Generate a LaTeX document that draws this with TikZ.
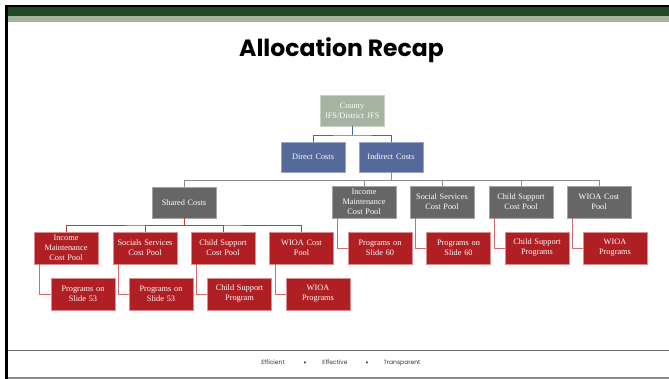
\documentclass[tikz,border=0pt]{standalone}
\usepackage{fontspec}
\setmainfont{Liberation Serif}
\newfontfamily\titlefont{Poppins}
\definecolor{dkgreen}{HTML}{1F4824}
\definecolor{ltgreen}{HTML}{A3B3A0}
\definecolor{countyc}{HTML}{A4B4A1}
\definecolor{bluec}{HTML}{55699A}
\definecolor{grayc}{HTML}{666666}
\definecolor{redc}{HTML}{B01F24}
\definecolor{redline}{HTML}{C0393D}
\definecolor{pinkline}{HTML}{D06A6D}
\definecolor{blueline}{HTML}{4F6699}
\definecolor{grayline}{HTML}{8C8C8C}
\tikzset{
  box/.style={rectangle, minimum width=64pt, minimum height=32pt, inner sep=1pt,
    text width=62pt, align=center, text=white, line width=0.6pt,
    font=\fontsize{8.3}{10}\selectfont},
  cbox/.style={box, fill=countyc, draw=countyc!60!white, minimum height=31pt},
  bbox/.style={box, fill=bluec, draw=bluec!60!white, minimum height=30pt},
  gbox/.style={box, fill=grayc, draw=grayc!60!white},
  rbox/.style={box, fill=redc, draw=redc!50!white},
  bconn/.style={draw=blueline, line width=0.9pt},
  gconn/.style={draw=grayline, line width=0.9pt},
  rconn/.style={draw=redline, line width=0.9pt},
  pconn/.style={draw=pinkline, line width=0.9pt},
  foot/.style={font=\titlefont\fontsize{6}{7}\selectfont, text=black!80, inner sep=0pt, anchor=base},
  bul/.style={font=\titlefont\fontsize{8}{8}\selectfont, text=black!80, inner sep=0pt, anchor=base},
}
\begin{document}
\begin{tikzpicture}[x=1pt,y=-1pt]
\useasboundingbox (0,0) rectangle (669,379);
\fill[white] (0,0) rectangle (669,379);
% frame
\fill[black] (5,5) rectangle (669,7.5);
\fill[black] (5,5) rectangle (8,379);
\fill[dkgreen] (8,7.5) rectangle (669,16);
\fill[ltgreen] (8,16) rectangle (669,22);
\draw[color=black!58, line width=1.5pt] (8,350.5) -- (669,350.5);
\draw[color=black!45, line width=1.5pt] (8,378) -- (669,378);
% title
\node[font=\titlefont\bfseries\fontsize{23.5}{26}\selectfont, text=black] (title) at (341.5,50) {Allocation Recap};
% footer
\node[foot] (f1) at (273,364.5) {Efficient};
\node[bul] (b1) at (305,365.5) {•};
\node[foot] (f2) at (335,364.5) {Effective};
\node[bul] (b2) at (367,365.5) {•};
\node[foot] (f3) at (402,364.5) {Transparent};
% nodes
\node[cbox] (county) at (352,110.5) {County\\JFS/District JFS};
\node[bbox] (direct) at (313,157) {Direct Costs};
\node[bbox] (indirect) at (391,157) {Indirect Costs};
\node[gbox, minimum height=31pt] (shared) at (184,202.5) {Shared Costs};
\node[gbox] (ipR) at (364,202) {Income\\Maintenance\\Cost Pool};
\node[gbox] (spR) at (442,202) {Social Services\\Cost Pool};
\node[gbox] (cpR) at (521,202) {Child Support\\Cost Pool};
\node[gbox] (wpR) at (599,202) {WIOA Cost\\Pool};
\node[rbox] (prR1) at (380,248) {Programs on\\Slide 60};
\node[rbox] (prR2) at (458.5,248) {Programs on\\Slide 60};
\node[rbox] (prR3) at (537,248) {Child Support\\Programs};
\node[rbox] (prR4) at (615,248) {WIOA\\Programs};
\node[rbox] (ipL) at (66,248) {Income\\Maintenance\\Cost Pool};
\node[rbox] (spL) at (145,248) {Socials Services\\Cost Pool};
\node[rbox] (cpL) at (223,248) {Child Support\\Cost Pool};
\node[rbox] (wpL) at (301.5,248) {WIOA Cost\\Pool};
\node[rbox] (prL1) at (83,294) {Programs on\\Slide 53};
\node[rbox] (prL2) at (161,294) {Programs on\\Slide 53};
\node[rbox] (prL3) at (239.5,294) {Child Support\\Program};
\node[rbox] (prL4) at (318,294) {WIOA\\Programs};
% connectors
\coordinate (cb) at (352,135);
\draw[bconn] (county.south) -- (cb);
\draw[bconn] (direct.north) |- (cb) -| (indirect.north);
\coordinate (ib) at (391,180.5);
\draw[gconn] (indirect.south) -- (ib);
\draw[gconn] (shared.north) |- (ib) -| (wpR.north);
\draw[gconn] (ipR.north) |- (ib);
\draw[gconn] (spR.north) |- (ib);
\draw[gconn] (cpR.north) |- (ib);
\coordinate (sb) at (184,225);
\draw[rconn] (shared.south) -- (sb);
\draw[rconn] (ipL.north) |- (sb) -| (wpL.north);
\draw[rconn] (spL.north) |- (sb);
\draw[rconn] (cpL.north) |- (sb);
\foreach \p/\c in {ipR/prR1, spR/prR2, cpR/prR3, wpR/prR4, ipL/prL1, spL/prL2, cpL/prL3, wpL/prL4}{
  \draw[pconn] ([xshift=6pt]\p.south west) |- (\c.west);
}
\end{tikzpicture}
\end{document}
